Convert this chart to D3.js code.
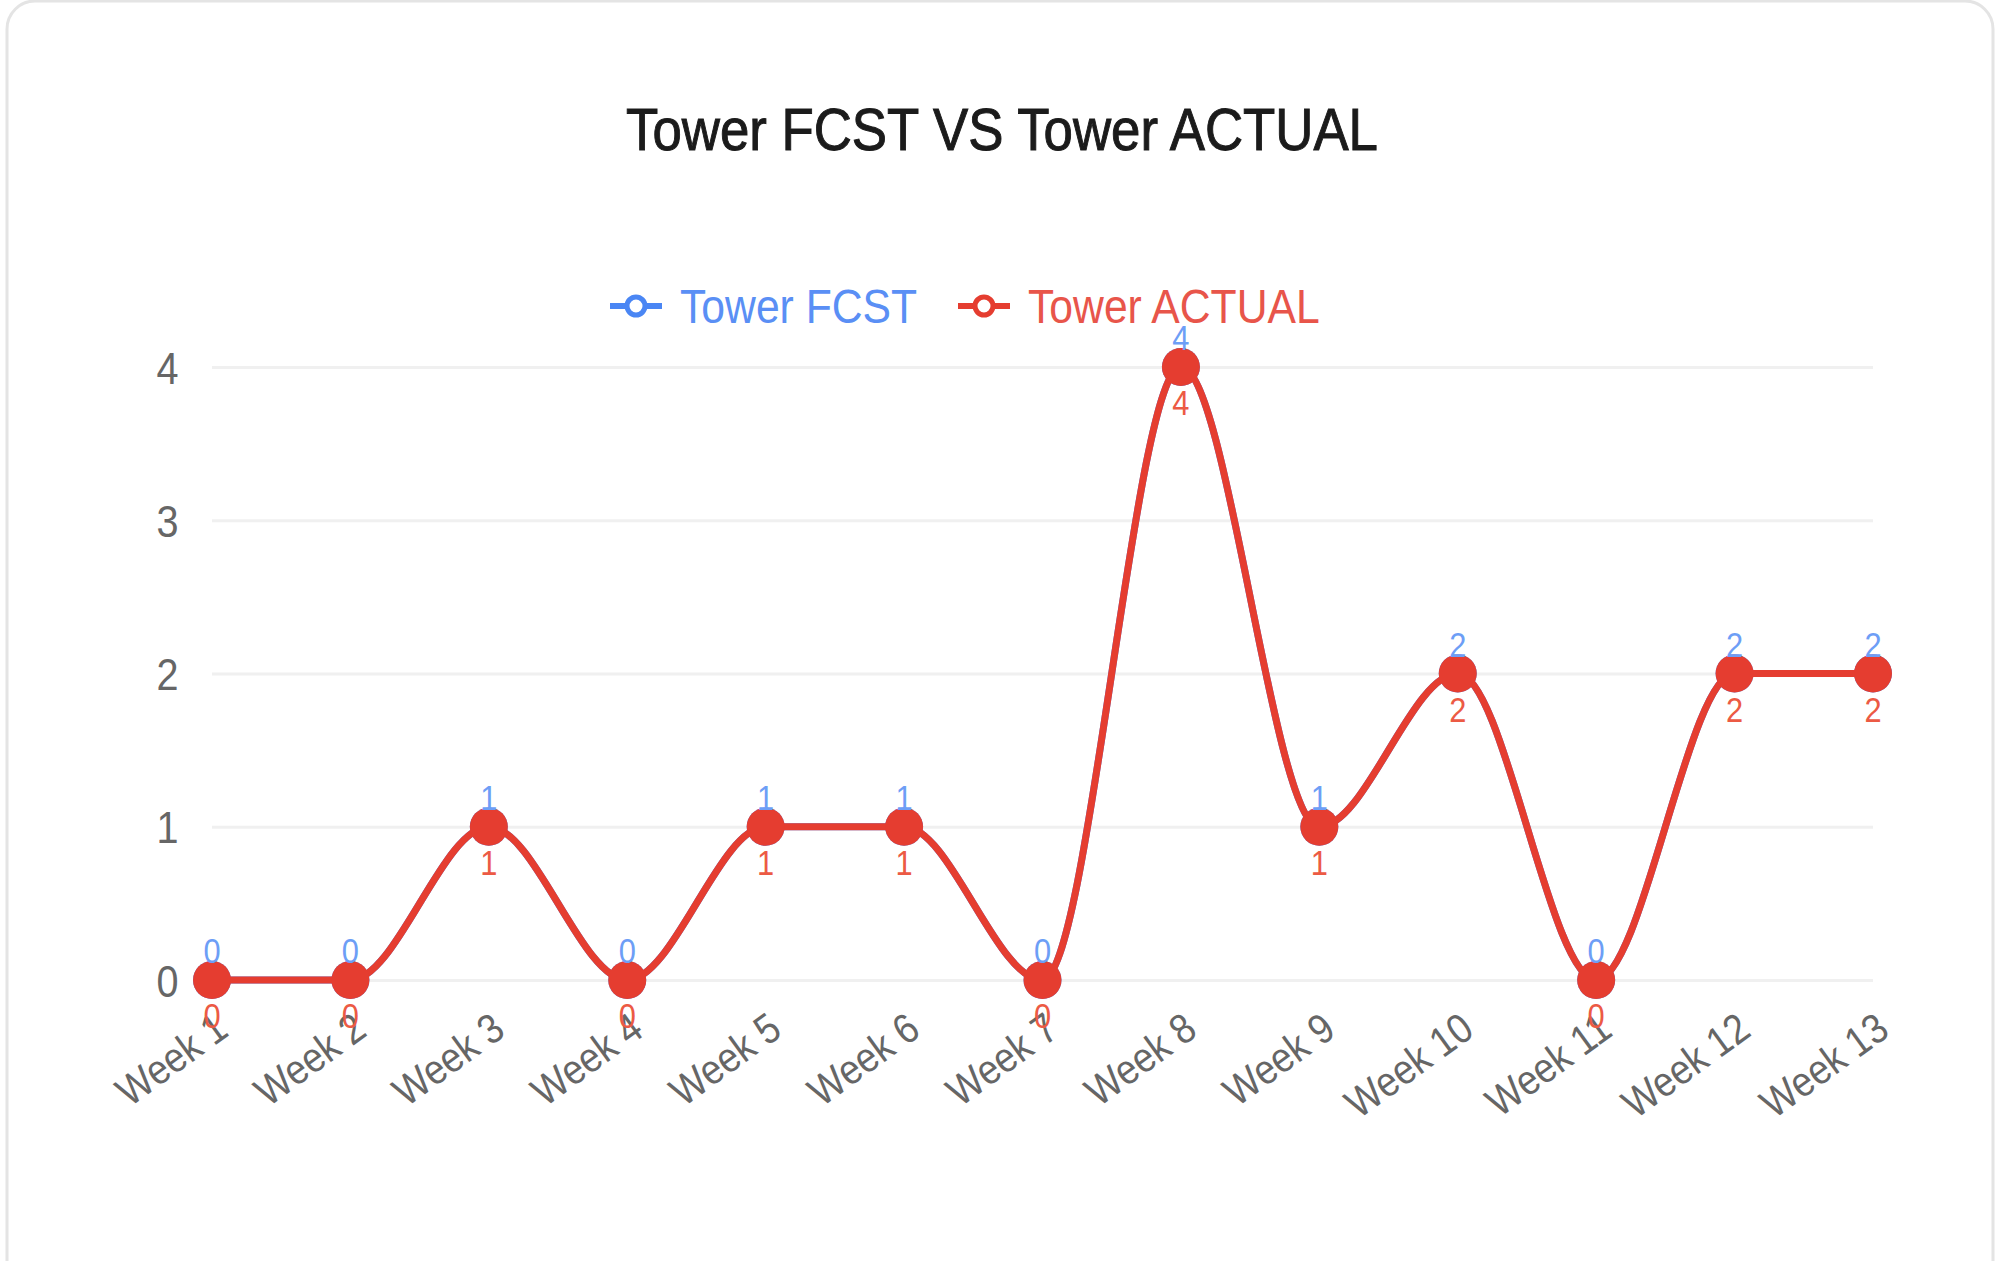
<!DOCTYPE html>
<meta charset="utf-8">
<style>
    body{
        margin: 0;
        background: #fff;
    }
    svg text{
        font-family: "Liberation Sans", Arial, sans-serif;
    }
</style>
<body>
<svg id="chart" width="2000" height="1261"></svg>
</body>
<script src="https://d3js.org/d3.v7.min.js"></script>
<script>
// weekly tower counts
const weeks = ["Week 1", "Week 2", "Week 3", "Week 4", "Week 5", "Week 6", "Week 7",
               "Week 8", "Week 9", "Week 10", "Week 11", "Week 12", "Week 13"];
const fcst   = [0, 0, 1, 0, 1, 1, 0, 4, 1, 2, 0, 2, 2];
const actual = [0, 0, 1, 0, 1, 1, 0, 4, 1, 2, 0, 2, 2];
const yTicks = [0, 1, 2, 3, 4];
const seriesNames = ["Tower FCST", "Tower ACTUAL"];

const blue = "#4a86f4", red = "#e53d30";
const squeeze = "scale(0.88,1)"; // the fonts in the original are a bit narrow

const svg = d3.select("#chart");

// card
svg.append("rect")
    .attr("x", 7).attr("y", 1)
    .attr("width", 1986).attr("height", 1320)
    .attr("rx", 28)
    .attr("fill", "#fff")
    .attr("stroke", "#e4e4e4")
    .attr("stroke-width", 3);

// title
svg.append("text")
    .attr("transform", "translate(1002,150) " + squeeze)
    .attr("text-anchor", "middle")
    .attr("font-size", 60)
    .attr("fill", "#1b1b1b")
    .attr("stroke", "#1b1b1b").attr("stroke-width", 1)
    .text("Tower FCST VS Tower ACTUAL");

const xScale = d3.scalePoint().domain(weeks).range([212, 1873]);
const yScale = d3.scaleLinear().domain([0, 4]).range([980, 367]);

// grid
const grid = svg.append("g")
    .attr("transform", "translate(" + xScale.range()[0] + ",0)")
    .call(d3.axisLeft(yScale).tickValues(yTicks)
        .tickSize(-(xScale.range()[1] - xScale.range()[0])).tickFormat(""));
grid.select(".domain").remove();
grid.selectAll("line").attr("stroke", "#f0f0f0").attr("stroke-width", 3);

// y labels
const yAxis = svg.append("g")
    .attr("transform", "translate(" + xScale.range()[0] + ",0)")
    .call(d3.axisLeft(yScale).tickValues(yTicks).tickSize(0).tickFormat(d3.format("d")));
yAxis.select(".domain").remove();
yAxis.selectAll("text")
    .attr("x", -38)
    .attr("dy", "0.36em")
    .attr("transform", squeeze)
    .attr("font-size", 45)
    .attr("fill", "#666");

// x labels
const xAxis = svg.append("g")
    .attr("transform", "translate(0," + yScale(0) + ")")
    .call(d3.axisBottom(xScale).tickSize(0));
xAxis.select(".domain").remove();
xAxis.selectAll("text")
    .attr("y", 0)
    .attr("dy", "0.72em")
    .attr("text-anchor", "end")
    .attr("transform", "translate(0,30) rotate(-36) " + squeeze)
    .attr("font-size", 42)
    .attr("fill", "#666");

const line = d3.line()
    .x(function(d, i) { return xScale(weeks[i]); })
    .y(function(d) { return yScale(d); })
    .curve(d3.curveMonotoneX);

function drawSeries(values, color) {
    svg.append("path")
        .datum(values)
        .attr("fill", "none")
        .attr("stroke", color)
        .attr("stroke-width", 7)
        .attr("d", line);
    svg.append("g").selectAll("circle")
        .data(values)
        .enter().append("circle")
        .attr("cx", function(d, i) { return xScale(weeks[i]); })
        .attr("cy", function(d) { return yScale(d); })
        .attr("r", 19)
        .attr("fill", color);
}
drawSeries(fcst, blue);
drawSeries(actual, red);

// value labels: forecast above, actual below
svg.append("g").selectAll("text")
    .data(fcst)
    .enter().append("text")
    .attr("transform", function(d, i) {
        return "translate(" + xScale(weeks[i]) + "," + (yScale(d) - 17) + ") " + squeeze;
    })
    .attr("text-anchor", "middle")
    .attr("font-size", 35)
    .attr("fill", "#6d9ef6")
    .text(function(d) { return d; });

svg.append("g").selectAll("text")
    .data(actual)
    .enter().append("text")
    .attr("transform", function(d, i) {
        return "translate(" + xScale(weeks[i]) + "," + (yScale(d) + 48) + ") " + squeeze;
    })
    .attr("text-anchor", "middle")
    .attr("font-size", 35)
    .attr("fill", "#ec5a44")
    .text(function(d) { return d; });

// legend
const legendX = [636, 984];
const legend = svg.append("g").selectAll("g")
    .data(seriesNames)
    .enter().append("g")
    .attr("transform", function(d, i) { return "translate(" + legendX[i] + ",306)"; });
legend.append("line")
    .attr("x1", -26).attr("x2", 26)
    .attr("stroke", function(d, i) { return i ? red : blue; })
    .attr("stroke-width", 6);
legend.append("circle")
    .attr("r", 9)
    .attr("fill", "#fff")
    .attr("stroke", function(d, i) { return i ? red : blue; })
    .attr("stroke-width", 5);
legend.append("text")
    .attr("transform", "translate(44,17) " + squeeze)
    .attr("font-size", 48.5)
    .attr("fill", function(d, i) { return i ? "#e8554a" : "#5a8ff5"; })
    .text(function(d) { return d; });
</script>
